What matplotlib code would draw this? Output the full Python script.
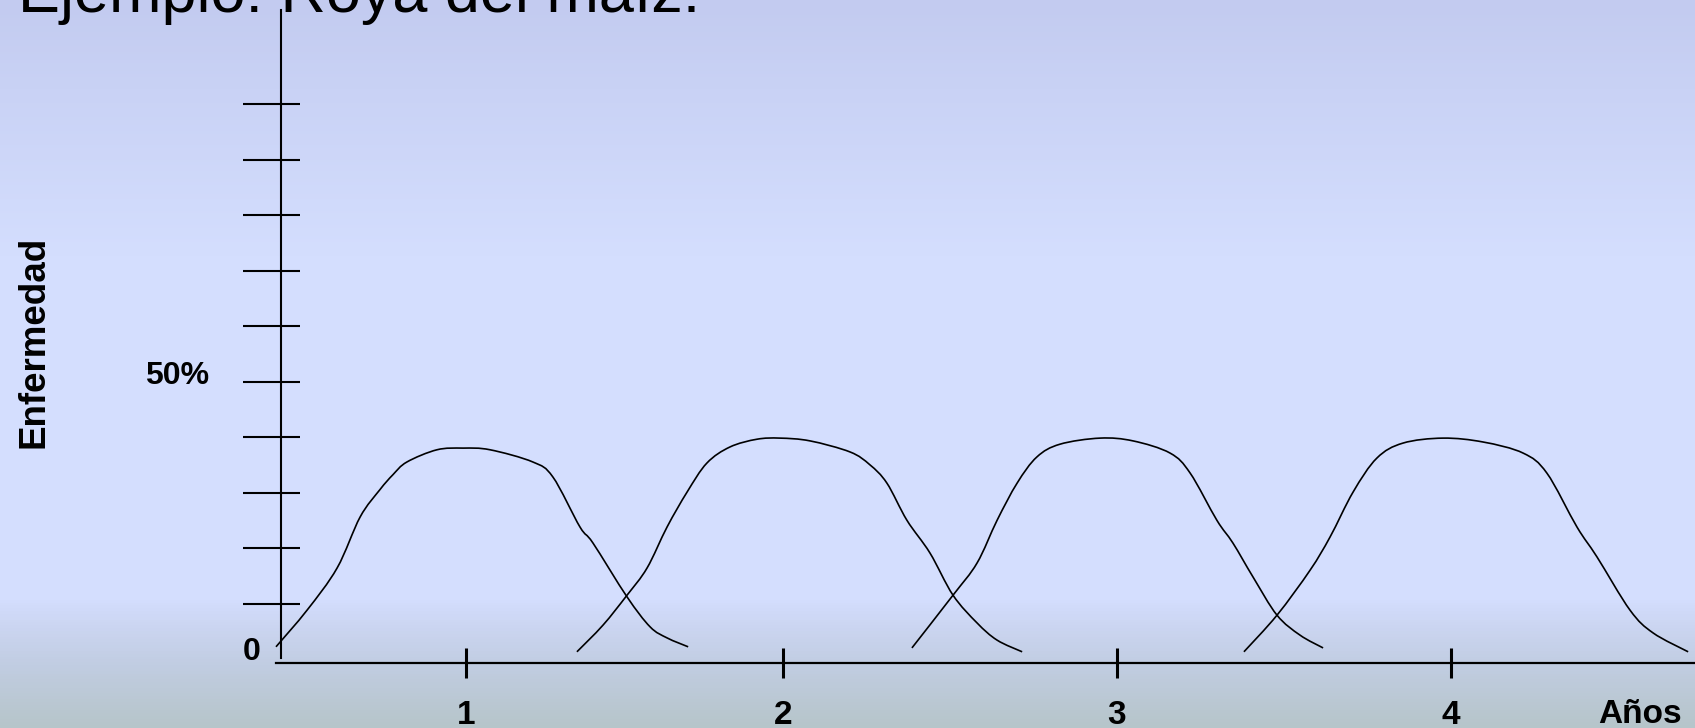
import numpy as np
import matplotlib
matplotlib.use("Agg")
import matplotlib.pyplot as plt
from matplotlib.colors import LinearSegmentedColormap
from matplotlib.path import Path
from matplotlib.patches import PathPatch

plt.rcParams['font.family'] = ['Liberation Sans', 'DejaVu Sans']

# Eje x en años, eje y en % de enfermedad
year_ticks = [1.05, 2.0, 3.0, 4.0]
year_labels = ["1", "2", "3", "4"]
y_ticks = [10, 20, 30, 40, 50, 60, 70, 80, 90, 100]

anio1_x = [0.482, 0.575, 0.665, 0.734, 0.793, 0.832, 0.874, 0.964, 1.042, 1.123,
           1.251, 1.311, 1.392, 1.431, 1.533, 1.602, 1.653, 1.716]
anio1_y = [2.2, 8.8, 16.4, 25.6, 30.5, 33.2, 35.5, 37.7, 38.0, 37.7,
           35.5, 32.8, 23.8, 20.9, 11.2, 5.8, 3.8, 2.2]

anio2_x = [1.383, 1.461, 1.533, 1.593, 1.653, 1.713, 1.772, 1.841, 1.922, 1.991,
           2.081, 2.201, 2.260, 2.311, 2.371, 2.440, 2.509, 2.581, 2.641, 2.716]
anio2_y = [1.3, 6.1, 11.5, 16.4, 23.8, 30.1, 35.3, 38.2, 39.6, 39.8,
           39.3, 37.3, 35.0, 31.7, 25.0, 19.1, 11.5, 6.5, 3.4, 1.3]

anio3_x = [2.386, 2.509, 2.581, 2.641, 2.701, 2.760, 2.829, 2.949, 3.048, 3.159,
           3.219, 3.299, 3.347, 3.407, 3.479, 3.548, 3.617]
anio3_y = [2.0, 11.5, 17.3, 25.0, 31.7, 36.4, 38.7, 39.8, 39.3, 37.1,
           33.5, 25.0, 20.9, 14.8, 7.9, 4.3, 2.0]

anio4_x = [3.380, 3.479, 3.578, 3.638, 3.707, 3.778, 3.856, 3.976, 4.096, 4.216,
           4.287, 4.377, 4.437, 4.536, 4.605, 4.710]
anio4_y = [1.3, 7.9, 16.0, 22.0, 30.1, 36.2, 38.9, 39.8, 39.1, 37.1,
           33.5, 23.8, 18.4, 8.8, 4.7, 1.3]

curvas = [(anio1_x, anio1_y), (anio2_x, anio2_y), (anio3_x, anio3_y), (anio4_x, anio4_y)]


def curva_suave(x, y):
    # curva de Bezier que pasa por los puntos leidos (como una curva de PowerPoint)
    p = np.column_stack([x, y])
    ext = np.vstack([p[0], p, p[-1]])
    verts = [p[0]]
    codes = [Path.MOVETO]
    for i in range(len(p) - 1):
        p0, p1, p2, p3 = ext[i], ext[i + 1], ext[i + 2], ext[i + 3]
        verts += [p1 + (p2 - p0) / 6, p2 - (p3 - p1) / 6, p2]
        codes += [Path.CURVE4] * 3
    return Path(verts, codes)


fig = plt.figure(figsize=(16.95, 7.28), dpi=100)

# fondo degradado tipo diapositiva
bg = fig.add_axes([0, 0, 1, 1])
bg.axis('off')
fondo = LinearSegmentedColormap.from_list('fondo', [
    (0.00, '#C3CBF0'), (0.12, '#C9D2F5'), (0.35, '#D4DEFE'), (0.825, '#D4DEFE'),
    (0.86, '#CCD6F2'), (0.915, '#C1CDE2'), (1.00, '#B6C5CA')])
bg.imshow(np.linspace(0, 1, 728).reshape(-1, 1), aspect='auto', cmap=fondo,
          extent=[0, 1, 0, 1])

ax = fig.add_axes([0, 0, 1, 1])
ax.patch.set_alpha(0)
ax.set_xlim(-0.3443, 4.7305)
ax.set_ylim(-12.43, 118.74)

for x, y in curvas:
    ax.add_patch(PathPatch(curva_suave(x, y), fill=False, edgecolor='black', lw=1.2))

for s in ['top', 'right']:
    ax.spines[s].set_visible(False)
ax.spines['left'].set_position(('data', 0.497))
ax.spines['left'].set_bounds(0.2, 116.9)
ax.spines['bottom'].set_position(('data', -0.72))
ax.spines['bottom'].set_bounds(0.482, 4.7305)
ax.spines['left'].set_linewidth(1.5)
ax.spines['bottom'].set_linewidth(1.6)

ax.set_yticks(y_ticks)
ax.set_yticks(y_ticks, minor=True)
ax.yaxis.remove_overlapping_locs = False
ax.tick_params(axis='y', which='major', direction='out', length=27.4, width=1.5, labelleft=False)
ax.tick_params(axis='y', which='minor', direction='in', length=13.7, width=1.5)

ax.set_xticks(year_ticks, labels=year_labels, fontsize=24, fontweight='bold')
ax.tick_params(axis='x', direction='inout', length=21.6, width=2.2, pad=15.5)

ax.text(0.281, 49.5, '50%', ha='right', va='baseline', fontsize=23, fontweight='bold')
ax.text(0.410, -0.1, '0', ha='center', va='baseline', fontsize=23, fontweight='bold')
ax.text(4.566, -11.53, 'Años', ha='center', va='baseline', fontsize=24, fontweight='bold')

fig.text(34 / 1695, 1 - 342 / 728, 'Enfermedad', rotation=90, ha='center', va='center',
         fontsize=26.5, fontweight='bold')
fig.text(18 / 1695, 1 - 12 / 728, 'Ejemplo: Roya del maíz:', ha='left', va='baseline',
         fontsize=45.4)

fig.savefig('out.png', dpi=100)
